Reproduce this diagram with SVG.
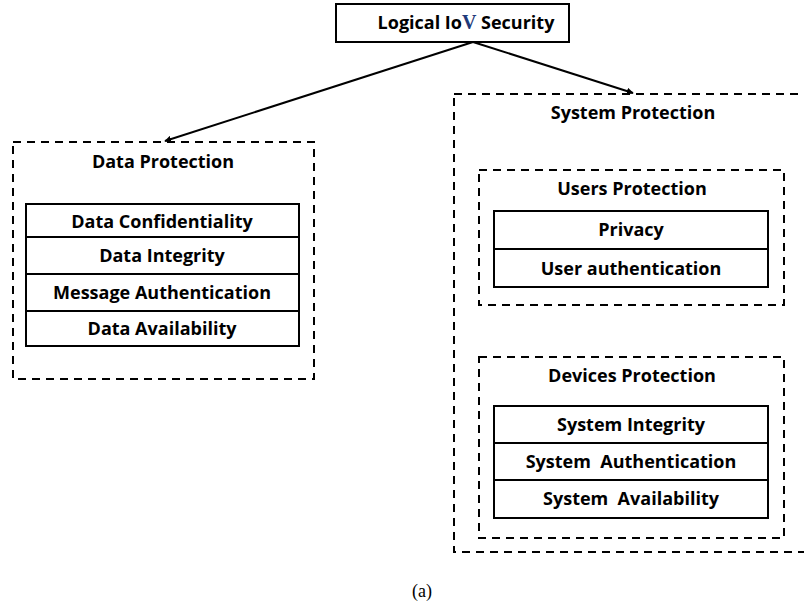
<svg xmlns="http://www.w3.org/2000/svg" width="804" height="605" viewBox="0 0 804 605">
<defs>
<marker id="ah" viewBox="0 0 10 10" refX="9" refY="5" markerWidth="7" markerHeight="7" orient="auto" markerUnits="userSpaceOnUse">
<path d="M0,0 L10,5 L0,10 z" fill="#000"/>
</marker>
<style>
.dash{fill:none;stroke:#000;stroke-width:2;stroke-dasharray:8,6}
.box{fill:#fff;stroke:#000;stroke-width:2}
.ln{stroke:#000;stroke-width:2}
.t{font-family:"Open Sans","Noto Sans","Liberation Sans",sans-serif;font-weight:700;font-size:18px;fill:#000;text-anchor:middle}
.conn{stroke:#000;stroke-width:2;fill:none;marker-end:url(#ah)}
</style>
</defs>
<rect width="804" height="605" fill="#fff"/>

<g id="root">
<rect class="box" x="336" y="4" width="233" height="38"/>
<text class="t" x="466" y="29">Logical Io<tspan font-family="'Liberation Serif',serif" fill="#1f3a7a" font-size="20">V</tspan> Security</text>
</g>

<g id="connectors">
<line class="conn" x1="473" y1="42" x2="165" y2="141"/>
<line class="conn" x1="473" y1="42" x2="633" y2="93"/>
</g>

<g id="data-protection">
<rect class="dash" x="13" y="142" width="301" height="237"/>
<text class="t" x="163" y="168">Data Protection</text>
<rect class="box" x="26" y="204" width="273" height="142"/>
<line class="ln" x1="26" y1="237" x2="299" y2="237"/>
<line class="ln" x1="26" y1="274" x2="299" y2="274"/>
<line class="ln" x1="26" y1="311" x2="299" y2="311"/>
<text class="t" x="162" y="228">Data Confidentiality</text>
<text class="t" x="162" y="262">Data Integrity</text>
<text class="t" x="162" y="299">Message Authentication</text>
<text class="t" x="162" y="335">Data Availability</text>
</g>

<g id="system-protection">
<rect class="dash" x="454" y="94" width="360" height="458"/>
<text class="t" x="633" y="119">System Protection</text>
</g>

<g id="users-protection">
<rect class="dash" x="479" y="170" width="305" height="135"/>
<text class="t" x="632" y="195">Users Protection</text>
<rect class="box" x="494" y="211" width="274" height="76"/>
<line class="ln" x1="494" y1="249" x2="768" y2="249"/>
<text class="t" x="631" y="236">Privacy</text>
<text class="t" x="631" y="275">User authentication</text>
</g>

<g id="devices-protection">
<rect class="dash" x="479" y="357" width="305" height="181"/>
<text class="t" x="632" y="382">Devices Protection</text>
<rect class="box" x="494" y="406" width="274" height="112"/>
<line class="ln" x1="494" y1="443" x2="768" y2="443"/>
<line class="ln" x1="494" y1="480" x2="768" y2="480"/>
<text class="t" x="631" y="431">System Integrity</text>
<text class="t" x="631" y="468" xml:space="preserve">System  Authentication</text>
<text class="t" x="631" y="505" xml:space="preserve">System  Availability</text>
</g>

<text x="422" y="597" font-family="'Liberation Serif',serif" font-size="18" text-anchor="middle" fill="#000">(a)</text>
</svg>
